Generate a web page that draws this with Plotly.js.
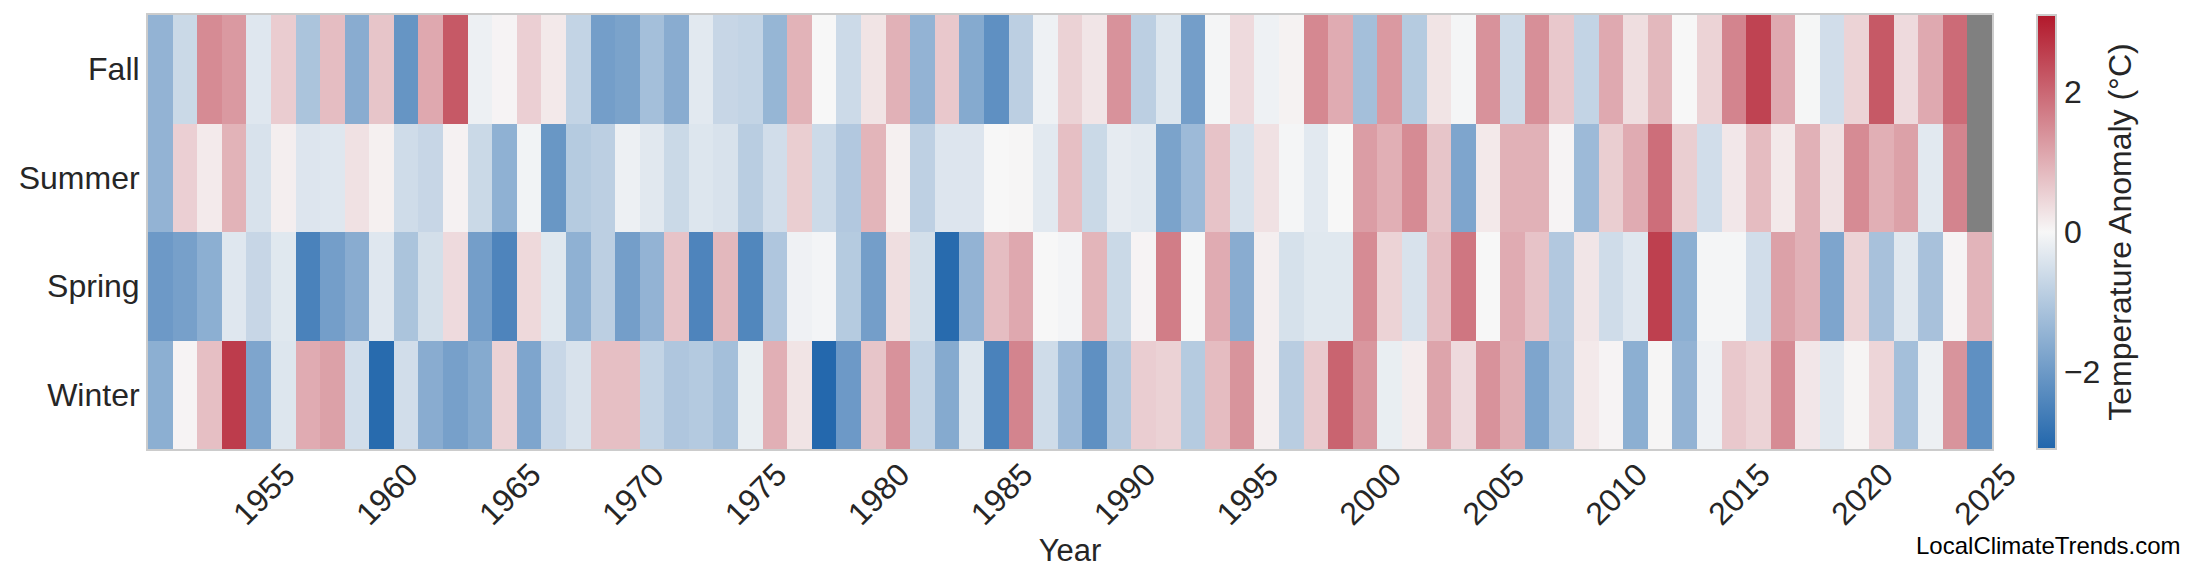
<!DOCTYPE html>
<html>
<head>
<meta charset="utf-8">
<script src="https://cdn.plot.ly/plotly-3.0.1.min.js"></script>
<style>html,body{margin:0;padding:0;background:#fff;}#chart{width:2200px;height:585px;}</style>
</head>
<body>
<div id="chart"></div>
<script>
const years = [];
for (let y = 1951; y <= 2025; y++) years.push(y);
const seasons = ["Winter", "Spring", "Summer", "Fall"];

const winter = [-1.55,0.05,0.78,2.6,-1.75,-0.37,1.05,1.2,-0.55,-3.0,-0.55,-1.6,-1.85,-1.65,0.52,-1.75,-0.68,-0.45,0.78,0.78,
-0.75,-1.05,-0.97,-1.2,-0.2,1.0,0.27,-3.05,-2.0,0.7,1.4,-0.75,-1.65,-0.37,-2.5,1.6,-0.58,-1.3,-2.2,-0.98,
0.58,0.52,-0.95,0.82,1.38,0.12,-0.9,0.62,2.05,1.35,-0.2,0.15,1.15,0.4,1.4,1.02,-1.75,-1.05,0.2,0.05,
-1.55,0.03,-1.45,-0.13,0.65,0.5,1.5,0.23,-0.32,0.04,0.47,-1.2,-0.15,1.38,-2.2];

const spring = [-2.0,-1.85,-1.55,-0.35,-0.7,-0.33,-2.5,-1.9,-1.6,-0.35,-1.1,-0.52,0.4,-1.9,-2.45,0.42,-0.33,-1.5,-0.85,-1.9,
-1.45,0.72,-2.45,0.88,-2.4,-1.05,-0.12,-0.06,-0.95,-1.9,0.35,-0.52,-3.0,-1.45,0.8,1.1,0.0,-0.06,0.92,-0.65,
0.05,1.7,0.0,1.05,-1.6,0.12,-0.48,-0.33,-0.33,1.5,0.5,-0.45,0.8,1.8,0.0,1.05,0.72,-1.0,0.25,-0.58,
-0.35,2.55,-1.55,-0.05,-0.05,-0.55,1.2,0.98,-1.75,0.5,-1.15,-0.32,-1.15,0.05,0.93];

const summer = [-1.45,0.55,0.18,0.95,-0.45,0.12,-0.38,-0.35,0.3,0.1,-0.58,-0.7,0.08,-0.65,-1.5,-0.08,-2.05,-0.95,-0.85,-0.15,
-0.32,-0.65,-0.37,-0.45,-0.9,-0.55,0.57,-0.62,-1.0,0.92,0.1,-0.83,-0.38,-0.38,0.0,0.03,-0.3,0.78,-0.65,-0.25,
-0.3,-1.8,-1.3,0.72,-0.45,0.3,-0.05,-0.3,0.0,1.25,1.0,1.5,0.7,-1.75,0.2,0.98,0.98,0.05,-1.3,0.57,
1.05,1.9,0.57,-0.55,0.22,0.82,0.2,0.98,0.3,1.5,1.0,1.2,-0.3,1.6,null];

const fall = [-1.45,-0.65,1.5,1.3,-0.35,0.6,-1.1,0.8,-1.6,0.7,-2.1,1.1,2.2,-0.15,0.05,0.55,0.2,-0.75,-1.9,-1.8,
-1.2,-1.6,-0.3,-0.7,-0.75,-1.4,0.95,0.0,-0.62,0.27,0.97,-1.45,0.65,-1.65,-2.2,-0.85,-0.13,0.52,0.25,1.4,
-0.85,-0.37,-1.9,-0.05,0.4,-0.13,0.07,1.55,1.05,-1.2,1.3,-0.95,0.27,-0.05,1.4,-0.6,1.45,0.65,-0.75,1.08,
0.35,0.88,0.0,0.5,1.6,2.5,1.08,-0.03,-0.55,0.5,2.2,0.4,1.08,1.95,null];

const xTicks = [1955,1960,1965,1970,1975,1980,1985,1990,1995,2000,2005,2010,2015,2020,2025];
const cbTicks = [-2, 0, 2];

const textColor = "#262626";
const fontFamily = "Liberation Sans, Arial, sans-serif";

const trace = {
  type: "heatmap",
  x: years,
  y: seasons,
  z: [winter, spring, summer, fall],
  zmin: -3.1,
  zmax: 3.1,
  colorscale: [[0, "#2166ac"], [0.5, "#f7f7f7"], [1, "#b2182b"]],
  xgap: 0, ygap: 0,
  hoverongaps: false,
  colorbar: {
    x: 1.0244, xanchor: "left", xpad: 0,
    y: 0.5, yanchor: "middle", ypad: 0,
    len: 1, lenmode: "fraction",
    thickness: 19,
    outlinecolor: "#cccccc", outlinewidth: 2,
    borderwidth: 0,
    ticks: "",
    tickvals: cbTicks,
    ticktext: cbTicks.map(v => v < 0 ? "\u2212" + Math.abs(v) : String(v)),
    tickfont: {size: 32, color: textColor, family: fontFamily},
    title: {text: "Temperature Anomaly (°C)", side: "right", font: {size: 32, color: textColor, family: fontFamily}}
  }
};

const layout = {
  width: 2200, height: 585,
  margin: {l: 148, r: 208, t: 15, b: 136},
  paper_bgcolor: "#ffffff",
  plot_bgcolor: "#808080",
  font: {family: fontFamily, color: textColor},
  xaxis: {
    range: [1950.5, 2025.5],
    tickvals: xTicks,
    ticktext: xTicks.map(String),
    tickangle: -45,
    ticklabelshift: 27,
    ticklabelstandoff: -8,
    tickfont: {size: 32, color: textColor},
    showgrid: false, zeroline: false,
    showline: true, mirror: true, linecolor: "#cccccc", linewidth: 2,
    ticks: "",
    title: {text: "Year", font: {size: 31, color: textColor}, standoff: 8}
  },
  yaxis: {
    type: "category",
    tickfont: {size: 32, color: textColor},
    showgrid: false, zeroline: false,
    showline: true, mirror: true, linecolor: "#cccccc", linewidth: 2,
    ticks: ""
  },
  annotations: [{
    text: "LocalClimateTrends.com",
    xref: "paper", yref: "paper",
    x: 1.1036, y: -0.2235, xanchor: "right", yanchor: "middle",
    showarrow: false,
    font: {size: 24, color: "#000000", family: fontFamily}
  }]
};

Plotly.newPlot("chart", [trace], layout, {displayModeBar: false, staticPlot: true});
</script>
</body>
</html>
